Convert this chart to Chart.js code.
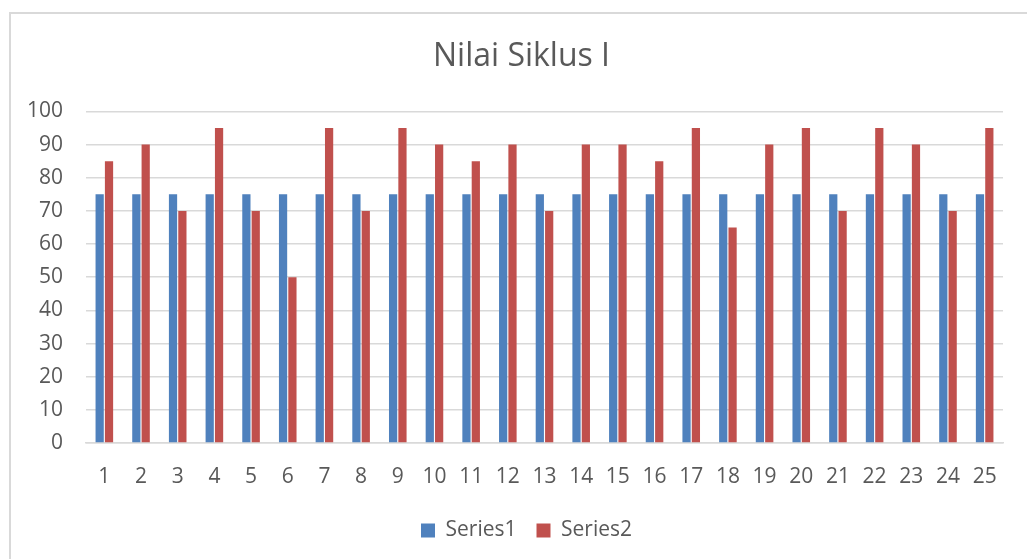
<!DOCTYPE html>
<html>
<head>
<meta charset="utf-8">
<script src="https://cdn.jsdelivr.net/npm/chart.js@4/dist/chart.umd.min.js"></script>
<style>
  html, body { margin: 0; padding: 0; background: #fff; overflow: hidden; }
  #frame {
    position: absolute; left: 9px; top: 12px; width: 1100px; height: 700px;
    border-left: 2px solid #d9d9d9; border-top: 2px solid #d9d9d9;
  }
  #wrap { position: absolute; left: 0; top: 0; width: 1027px; height: 559px; }
</style>
</head>
<body>
<div id="frame"></div>
<div id="wrap"><canvas id="myChart" width="1027" height="559"></canvas></div>
<script>
const siswa = ["1","2","3","4","5","6","7","8","9","10","11","12","13","14","15","16","17","18","19","20","21","22","23","24","25"];
const series1 = [75,75,75,75,75,75,75,75,75,75,75,75,75,75,75,75,75,75,75,75,75,75,75,75,75];
const series2 = [85,90,70,95,70,50,95,70,95,90,85,90,70,90,90,85,95,65,90,95,70,95,90,70,95];
const yMin = 0, yMax = 100, yStep = 10;

const abu = "#595959";
const fontFam = "'Open Sans', 'Noto Sans', sans-serif";

const data = {
  labels: siswa,
  datasets: [
    { label: "Series1", data: series1, backgroundColor: "#4F81BD", borderWidth: 0 },
    { label: "Series2", data: series2, backgroundColor: "#C0504D", borderWidth: 0 },
  ],
};

// geser judul & legend sedikit ke kanan, seperti di Excel
const geserBlok = {
  id: "geserBlok",
  afterLayout(chart) {
    if (chart.legend) {
      chart.legend.left += 25;
      chart.legend.right += 25;
    }
    if (chart.titleBlock) {
      chart.titleBlock.left += 20;
      chart.titleBlock.right += 20;
    }
  },
};

const options = {
  responsive: false,
  animation: false,
  layout: { padding: { left: 0, right: 24, top: 0, bottom: 8 } },
  datasets: { bar: { categoryPercentage: 0.51, barPercentage: 0.88 } },
  plugins: {
    title: {
      display: true,
      text: "Nilai Siklus I",
      color: abu,
      font: { family: fontFam, size: 32, weight: "normal" },
      padding: { top: 38, bottom: 35 },
    },
    legend: {
      position: "bottom",
      labels: {
        color: abu,
        boxWidth: 14,
        boxHeight: 14,
        padding: 20,
        font: { family: fontFam, size: 21 },
      },
    },
    tooltip: { enabled: false },
  },
  scales: {
    x: {
      grid: { display: false, drawTicks: false },
      border: { display: true, color: "#d9d9d9", width: 1.5 },
      ticks: { color: abu, padding: 21, font: { family: fontFam, size: 21 }, maxRotation: 0, autoSkip: false },
      afterFit: (scale) => { scale.height = 57; },
    },
    y: {
      min: yMin,
      max: yMax,
      grid: { color: "#d9d9d9", lineWidth: 1.5, drawTicks: false },
      border: { display: false },
      ticks: { stepSize: yStep, color: abu, padding: 23, font: { family: fontFam, size: 21 } },
      afterFit: (scale) => { scale.width = 86; },
    },
  },
};

let ctx = document.getElementById("myChart").getContext("2d");
window.grafica = new Chart(ctx, { type: "bar", data: data, options: options, plugins: [geserBlok] });
</script>
</body>
</html>
